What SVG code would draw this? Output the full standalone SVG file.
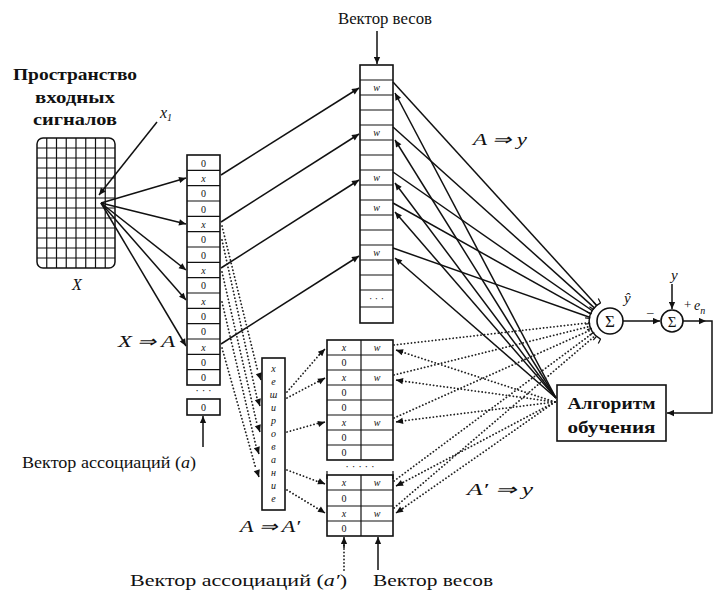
<svg xmlns="http://www.w3.org/2000/svg" width="719" height="591" viewBox="0 0 719 591">
<style>
text{font-family:"Liberation Serif","Times New Roman",serif;fill:#111}
.lbl{font-size:16px}
.b{font-weight:bold}
.it{font-style:italic}
.cell{font-size:10px;text-anchor:middle}
.ln{stroke:#111;stroke-width:1.5;fill:none}
.th{stroke:#111;stroke-width:1.2;fill:none}
.dot{stroke:#222;stroke-width:1.8;fill:none;stroke-dasharray:0.1 3.4;stroke-linecap:round}
.box{fill:#fff;stroke:#111;stroke-width:1.6}
</style>
<defs>
<marker id="ah" viewBox="0 0 10 10" refX="10" refY="5" markerWidth="9" markerHeight="7" markerUnits="userSpaceOnUse" orient="auto"><path d="M0,0.5 L10,5 L0,9.5 z" fill="#111"/></marker>
</defs>
<rect width="719" height="591" fill="#fff"/>

<!-- input space -->
<g id="input-space">
<text class="lbl b" x="75" y="80" text-anchor="middle" textLength="124" lengthAdjust="spacingAndGlyphs">Пространство</text>
<text class="lbl b" x="75" y="103" text-anchor="middle" textLength="80" lengthAdjust="spacingAndGlyphs">входных</text>
<text class="lbl b" x="75" y="125" text-anchor="middle" textLength="84" lengthAdjust="spacingAndGlyphs">сигналов</text>
<rect x="37" y="138" width="78" height="130" rx="6" class="ln"/>
<path class="th" d="M46.75,138V268M56.5,138V268M66.25,138V268M76,138V268M85.75,138V268M95.5,138V268M105.25,138V268M37,148H115M37,158H115M37,168H115M37,178H115M37,188H115M37,198H115M37,208H115M37,218H115M37,228H115M37,238H115M37,248H115M37,258H115"/>
<text class="lbl it" x="77" y="290" text-anchor="middle">X</text>
<text class="lbl it" x="160" y="118">x<tspan font-size="10" dy="3">1</tspan></text>
</g>

<!-- association vector a -->
<g id="assoc-a">
<rect x="187" y="155" width="33" height="230" class="box"/>
<path class="th" d="M187,170.3H220M187,185.7H220M187,201H220M187,216.3H220M187,231.7H220M187,247H220M187,262.3H220M187,277.7H220M187,293H220M187,308.3H220M187,323.7H220M187,339H220M187,354.3H220M187,369.7H220"/>
<g class="cell">
<text x="203.5" y="166.5">0</text>
<text x="203.5" y="181.5" class="it">x</text>
<text x="203.5" y="197">0</text>
<text x="203.5" y="212.5">0</text>
<text x="203.5" y="227.5" class="it">x</text>
<text x="203.5" y="243">0</text>
<text x="203.5" y="258.5">0</text>
<text x="203.5" y="273.5" class="it">x</text>
<text x="203.5" y="289">0</text>
<text x="203.5" y="304.5" class="it">x</text>
<text x="203.5" y="320">0</text>
<text x="203.5" y="335">0</text>
<text x="203.5" y="350.5" class="it">x</text>
<text x="203.5" y="366">0</text>
<text x="203.5" y="381">0</text>
<text x="203.5" y="394" font-size="11">· · ·</text>
</g>
<rect x="187" y="399" width="33" height="16" class="box"/>
<text class="cell" x="203.5" y="411">0</text>
<text class="lbl" x="22" y="468" textLength="174" lengthAdjust="spacingAndGlyphs">Вектор ассоциаций (<tspan class="it">a</tspan>)</text>
<text class="lbl it" x="118" y="347" textLength="57" lengthAdjust="spacingAndGlyphs">X ⇒ A</text>
</g>

<!-- top weight vector -->
<g id="weights-top">
<text class="lbl" x="338" y="24" textLength="94" lengthAdjust="spacingAndGlyphs">Вектор весов</text>
<rect x="360" y="65" width="33" height="258" class="box"/>
<path class="th" d="M360,80H393M360,95H393M360,110H393M360,125H393M360,140H393M360,155H393M360,170H393M360,185H393M360,200H393M360,215H393M360,230H393M360,245H393M360,260H393M360,275H393M360,290H393M360,307H393"/>
<rect x="361" y="292" width="31" height="14" fill="#fff"/>
<g class="cell it">
<text x="376.5" y="91">w</text>
<text x="376.5" y="136">w</text>
<text x="376.5" y="181">w</text>
<text x="376.5" y="211">w</text>
<text x="376.5" y="256">w</text>
</g>
<text class="cell" x="376.5" y="302" font-size="11">· · ·</text>
<text class="lbl it" x="473" y="145" textLength="54" lengthAdjust="spacingAndGlyphs">A ⇒ y</text>
</g>

<!-- hashing -->
<g id="hashing">
<rect x="262" y="358" width="23" height="152" class="box"/>
<g class="cell it" font-size="11">
<text x="273.5" y="372">х</text>
<text x="273.5" y="385">е</text>
<text x="273.5" y="398">ш</text>
<text x="273.5" y="411">и</text>
<text x="273.5" y="424">р</text>
<text x="273.5" y="437">о</text>
<text x="273.5" y="450">в</text>
<text x="273.5" y="463">а</text>
<text x="273.5" y="476">н</text>
<text x="273.5" y="489">и</text>
<text x="273.5" y="502">е</text>
</g>
<text class="lbl it" x="240" y="532" textLength="60" lengthAdjust="spacingAndGlyphs">A ⇒ A′</text>
</g>

<!-- association vector a' and bottom weights -->
<g id="assoc-a2-weights-bottom">
<rect x="327" y="340" width="66" height="120" class="box"/>
<path class="th" d="M361,340V460M327,355H393M327,370H393M327,385H393M327,400H393M327,415H393M327,430H393M327,445H393"/>
<rect x="327" y="475" width="66" height="61" class="box"/>
<path class="th" d="M361,475V536M327,490H393M327,506H393M327,521H393M327,471V479M393,471V479"/>
<g class="cell">
<text x="344" y="351" class="it">x</text><text x="377" y="351" class="it">w</text>
<text x="344" y="366">0</text>
<text x="344" y="381" class="it">x</text><text x="377" y="381" class="it">w</text>
<text x="344" y="396">0</text>
<text x="344" y="411">0</text>
<text x="344" y="426" class="it">x</text><text x="377" y="426" class="it">w</text>
<text x="344" y="441">0</text>
<text x="344" y="456">0</text>
<text x="360" y="470" font-size="11">·  ·  ·  ·  ·</text>
<text x="344" y="486" class="it">x</text><text x="377" y="486" class="it">w</text>
<text x="344" y="502">0</text>
<text x="344" y="517" class="it">x</text><text x="377" y="517" class="it">w</text>
<text x="344" y="532">0</text>
</g>
<text class="lbl" x="130" y="586" textLength="217" lengthAdjust="spacingAndGlyphs">Вектор ассоциаций (<tspan class="it">a′</tspan>)</text>
<text class="lbl" x="373" y="586" textLength="120" lengthAdjust="spacingAndGlyphs">Вектор весов</text>
<text class="lbl it" x="467" y="495" textLength="66" lengthAdjust="spacingAndGlyphs">A′ ⇒ y</text>
</g>

<!-- summing neuron -->
<g id="neuron">
<circle cx="610" cy="321" r="13" class="box"/>
<text x="610" y="327" font-size="17" text-anchor="middle">Σ</text>
<path class="ln" stroke-width="2.2" d="M600.6,302.9 A20,20 0 0 0 600.6,339.1"/>
<path class="th" stroke-width="1.8" d="M600.6,302.9l-2.3,-4.5M596.5,305.6l-3.2,-3.8M593.6,309.5l-4.2,-2.8M591.7,313.8l-4.7,-1.7M590.1,318.5l-5,-0.6M590.1,323.5l-5,0.6M591.7,328.2l-4.7,1.7M593.6,332.5l-4.2,2.8M596.5,336.4l-3.2,3.8M600.6,339.1l-2.3,4.5"/>
<text class="it" x="624" y="303" font-size="15">ŷ</text>
</g>

<!-- error node -->
<g id="error-sum">
<circle cx="672" cy="321" r="11" class="box"/>
<text x="672" y="326.5" font-size="15" text-anchor="middle">Σ</text>
<text class="it" x="671" y="280" font-size="15">y</text>
<text x="647" y="316" font-size="13">–</text>
<text x="684" y="309" font-size="13">+</text>
<text class="it" x="694" y="310" font-size="14">e<tspan font-size="10" dy="4">n</tspan></text>
</g>

<!-- learning algorithm -->
<g id="algorithm">
<rect x="557" y="385" width="109" height="56" class="box"/>
<text class="lbl b" x="611.5" y="409" text-anchor="middle" textLength="88" lengthAdjust="spacingAndGlyphs">Алгоритм</text>
<text class="lbl b" x="611.5" y="433" text-anchor="middle" textLength="88" lengthAdjust="spacingAndGlyphs">обучения</text>
</g>

<!-- connectors -->
<g id="connectors">
<!-- labels arrows -->
<path class="ln" marker-end="url(#ah)" d="M377,31V64"/>
<path class="ln" marker-end="url(#ah)" d="M203,447V416"/>
<path class="dot" d="M344,570V540"/>
<path class="ln" marker-end="url(#ah)" d="M344,548V537"/>
<path class="ln" marker-end="url(#ah)" d="M378,570V537"/>
<!-- input to association -->
<path class="ln" marker-end="url(#ah)" d="M157,122L99,195"/>
<path class="ln" marker-end="url(#ah)" d="M101,203L186,178"/>
<path class="ln" marker-end="url(#ah)" d="M101,203L186,224"/>
<path class="ln" marker-end="url(#ah)" d="M101,203L186,270"/>
<path class="ln" marker-end="url(#ah)" d="M101,203L186,300"/>
<path class="ln" marker-end="url(#ah)" d="M101,203L186,346"/>
<!-- association to top weights -->
<path class="ln" marker-end="url(#ah)" d="M221,175L359,88"/>
<path class="ln" marker-end="url(#ah)" d="M221,222L359,134"/>
<path class="ln" marker-end="url(#ah)" d="M221,268L359,180"/>
<path class="ln" marker-end="url(#ah)" d="M221,344L359,256"/>
<!-- top weights to neuron -->
<path class="ln" d="M393,82L597,305.7"/>
<path class="ln" d="M393,127L594.7,308.1"/>
<path class="ln" d="M393,172L592.7,311"/>
<path class="ln" d="M393,203L591.2,314.2"/>
<path class="ln" d="M393,248L590.3,317.5"/>
<!-- algorithm to top weights -->
<path class="ln" marker-end="url(#ah)" d="M556,398L395,93"/>
<path class="ln" marker-end="url(#ah)" d="M556,398L395,140"/>
<path class="ln" marker-end="url(#ah)" d="M556,398L395,183"/>
<path class="ln" marker-end="url(#ah)" d="M556,398L395,212"/>
<path class="ln" marker-end="url(#ah)" d="M556,398L395,258"/>
<!-- association to hashing -->
<path class="dot" d="M222,226L258,372"/>
<path class="ln" marker-end="url(#ah)" d="M259,374L261,380"/>
<path class="dot" d="M222,240L257,398"/>
<path class="ln" marker-end="url(#ah)" d="M258,400L260,406"/>
<path class="dot" d="M222,272L257,424"/>
<path class="ln" marker-end="url(#ah)" d="M258,426L260,432"/>
<path class="dot" d="M222,302L256,446"/>
<path class="ln" marker-end="url(#ah)" d="M257,448L259,454"/>
<path class="dot" d="M222,348L256,469"/>
<path class="ln" marker-end="url(#ah)" d="M257,471L259,477"/>
<!-- hashing to a' -->
<path class="dot" d="M287,392L320,354"/>
<path class="ln" marker-end="url(#ah)" d="M319,355L325,349"/>
<path class="dot" d="M287,398L319,381"/>
<path class="ln" marker-end="url(#ah)" d="M318,382L325,378"/>
<path class="dot" d="M287,432L319,423"/>
<path class="ln" marker-end="url(#ah)" d="M318,424L325,422"/>
<path class="dot" d="M287,470L319,482"/>
<path class="ln" marker-end="url(#ah)" d="M318,481L325,484"/>
<path class="dot" d="M287,490L320,510"/>
<path class="ln" marker-end="url(#ah)" d="M319,509L325,513"/>
<!-- bottom weights to neuron -->
<path class="dot" d="M394,345L590,322.7"/>
<path class="dot" d="M394,375L590.7,326.2"/>
<path class="dot" d="M394,418L591.9,329.5"/>
<path class="dot" d="M394,481L593.6,332.5"/>
<path class="dot" d="M394,508L595.9,335.1"/>
<!-- algorithm to bottom weights -->
<path class="dot" d="M555,402L402,352"/>
<path class="ln" marker-end="url(#ah)" d="M403,352.3L396,350"/>
<path class="dot" d="M555,402L402,381"/>
<path class="ln" marker-end="url(#ah)" d="M403,381.2L396,380"/>
<path class="dot" d="M555,402L402,421"/>
<path class="ln" marker-end="url(#ah)" d="M403,420.8L396,422"/>
<path class="dot" d="M555,402L402,483"/>
<path class="ln" marker-end="url(#ah)" d="M403,482.5L396,486"/>
<path class="dot" d="M555,402L402,509"/>
<path class="ln" marker-end="url(#ah)" d="M403,508.3L396,513"/>
<!-- neuron to error and feedback -->
<path class="ln" marker-end="url(#ah)" d="M623,321H660"/>
<path class="ln" marker-end="url(#ah)" d="M672,284V309"/>
<path class="ln" marker-end="url(#ah)" d="M683,321H706"/>
<path class="ln" marker-end="url(#ah)" d="M706,321H712V413H667"/>
</g>
</svg>
